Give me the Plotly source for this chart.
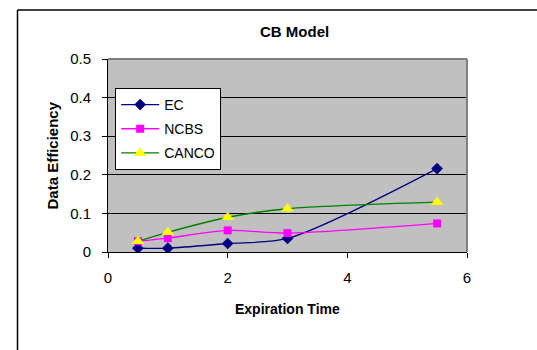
import plotly.graph_objects as go

x_vals = [0.5, 1, 2, 3, 5.5]
ec = [0.010, 0.010, 0.022, 0.035, 0.216]
ncbs = [0.028, 0.036, 0.056, 0.049, 0.074]
canco = [0.028, 0.051, 0.090, 0.112, 0.129]
x_ticks = [0, 2, 4, 6]
y_ticks = [0, 0.1, 0.2, 0.3, 0.4, 0.5]
y_tick_text = ["0", "0.1", "0.2", "0.3", "0.4", "0.5"]

FONT = "Liberation Sans, Arial, sans-serif"

fig = go.Figure()
fig.add_trace(go.Scatter(x=x_vals, y=ec, name="EC", mode="lines+markers",
                         line=dict(color="#000080", width=1.3, shape="spline", smoothing=0.8),
                         marker=dict(symbol="diamond", size=9, color="#000080"),
                         legendgroup="a"))
fig.add_trace(go.Scatter(x=x_vals, y=ncbs, name="NCBS", mode="lines+markers",
                         line=dict(color="#FF00FF", width=1.3, shape="spline", smoothing=0.8),
                         marker=dict(symbol="square", size=8, color="#FF00FF"),
                         legendgroup="b"))
fig.add_trace(go.Scatter(x=x_vals, y=canco, name="CANCO", mode="lines+markers",
                         line=dict(color="#008000", width=1.3, shape="spline", smoothing=0.8),
                         marker=dict(symbol="triangle-up", size=11, color="#FFFF00"),
                         legendgroup="c"))

fig.update_layout(
    width=537, height=350,
    margin=dict(l=108, r=70, t=59, b=98),
    paper_bgcolor="white", plot_bgcolor="#C0C0C0",
    font=dict(family=FONT, size=15, color="black"),
    showlegend=True,
    legend=dict(x=0.02, y=0.85, xanchor="left", yanchor="top",
                bgcolor="white", bordercolor="black", borderwidth=1,
                font=dict(size=14), traceorder="grouped", tracegroupgap=3,
                itemwidth=38),
    xaxis=dict(range=[0, 6], tickvals=x_ticks, showgrid=False, zeroline=False,
               showline=True, linecolor="black", linewidth=1,
               ticks="outside", ticklen=5, tickcolor="black",
               ticklabelstandoff=7, fixedrange=True, tickfont=dict(size=15)),
    yaxis=dict(range=[0, 0.5], tickvals=y_ticks, ticktext=y_tick_text,
               showgrid=True, gridcolor="black", gridwidth=1, zeroline=False,
               showline=True, linecolor="black", linewidth=1,
               ticks="outside", ticklen=5, tickcolor="black",
               ticklabelstandoff=8, fixedrange=True, tickfont=dict(size=15)),
    annotations=[
        dict(text="<b>CB Model</b>", xref="paper", yref="paper", x=0.52, y=(252 - 32) / 193,
             xanchor="center", yanchor="middle", showarrow=False, font=dict(size=15)),
        dict(text="<b>Expiration Time</b>", xref="paper", yref="paper", x=0.5,
             y=(252 - 309) / 193, xanchor="center", yanchor="middle", showarrow=False,
             font=dict(size=14)),
        dict(text="<b>Data Efficiency</b>", xref="paper", yref="paper", x=(52 - 108) / 359,
             y=0.5, xanchor="center", yanchor="middle", showarrow=False, textangle=-90,
             font=dict(size=15)),
    ],
    shapes=[
        dict(type="line", xref="paper", yref="paper", x0=0, x1=1, y0=1, y1=1,
             line=dict(color="#808080", width=2)),
        dict(type="line", xref="paper", yref="paper", x0=1, x1=1, y0=0, y1=1,
             line=dict(color="#808080", width=2)),
        dict(type="line", xref="paper", yref="paper", x0=(17.5 - 108) / 359, x1=1.3,
             y0=(252 - 10) / 193, y1=(252 - 10) / 193, line=dict(color="black", width=1.5)),
        dict(type="line", xref="paper", yref="paper", x0=(17.5 - 108) / 359, x1=(17.5 - 108) / 359,
             y0=(252 - 10) / 193, y1=-0.6, line=dict(color="black", width=1.5)),
    ],
)

fig.write_html("out.html")
